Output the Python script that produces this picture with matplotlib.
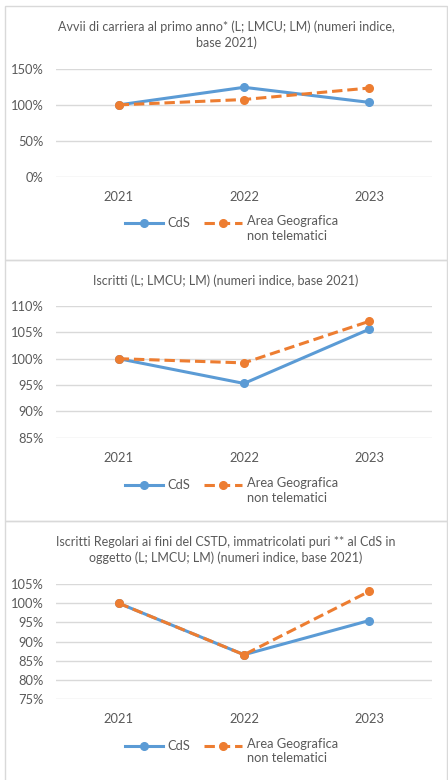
import matplotlib
matplotlib.use("Agg")
import matplotlib.pyplot as plt
from matplotlib.lines import Line2D
from matplotlib.patches import Rectangle
from matplotlib.ticker import PercentFormatter

plt.rcParams['font.family'] = ['Lato', 'DejaVu Sans']

years = ["2021", "2022", "2023"]

titles = [
    "Avvii di carriera al primo anno* (L; LMCU; LM) (numeri indice,\nbase 2021)",
    "Iscritti (L; LMCU; LM) (numeri indice, base 2021)",
    "Iscritti Regolari ai fini del CSTD, immatricolati puri ** al CdS in\noggetto (L; LMCU; LM) (numeri indice, base 2021)",
]

avvii_cds = [1.00, 1.245, 1.035]
avvii_area = [1.00, 1.075, 1.235]

iscritti_cds = [1.00, 0.953, 1.056]
iscritti_area = [1.00, 0.992, 1.071]

regolari_cds = [1.00, 0.866, 0.955]
regolari_area = [1.00, 0.866, 1.031]

yticks = [
    [0, 0.5, 1.0, 1.5],
    [0.85, 0.90, 0.95, 1.00, 1.05, 1.10],
    [0.75, 0.80, 0.85, 0.90, 0.95, 1.00, 1.05],
]

legend_labels = ["CdS", "Area Geografica\nnon telematici"]

W, H = 448, 780
BLUE = "#5B9BD5"
ORANGE = "#ED7D31"
GREY = "#595959"
GRID = "#D9D9D9"

fig = plt.figure(figsize=(W / 100, H / 100), dpi=100)


def fx(x):
    return x / W


def fy(y):
    return 1 - y / H


# panel layout in pixels: box top/bottom, title y, axes top/bottom, legend y
panels = [
    dict(box=(6, 260), title=35, ax=(69, 176.7), leg=223),
    dict(box=(260, 521), title=281, ax=(306, 437.7), leg=485),
    dict(box=(521, 784), title=550, ax=(584, 699.3), leg=746),
]
series = [
    (avvii_cds, avvii_area),
    (iscritti_cds, iscritti_area),
    (regolari_cds, regolari_area),
]

for i, p in enumerate(panels):
    top, bot = p["box"]
    fig.patches.append(Rectangle((fx(4.5), fy(bot)), fx(447 - 4.5), (bot - top) / H,
                                 transform=fig.transFigure, fill=False,
                                 edgecolor="#D9D9D9", linewidth=1.0))

    fig.text(fx(226), fy(p["title"]), titles[i], ha="center", va="center",
             fontsize=9.0, color=GREY, linespacing=1.3)

    at, ab = p["ax"]
    ax = fig.add_axes([fx(56), fy(ab), fx(432 - 56), (ab - at) / H])
    x = range(len(years))
    cds, area = series[i]
    ax.plot(x, cds, color=BLUE, lw=2.2, marker="o", ms=5.5, zorder=3)
    ax.plot(x, area, color=ORANGE, lw=2.2, marker="o", ms=5.5, zorder=4,
            dashes=(3.4, 1.6))
    ax.set_xlim(-0.5, 2.5)
    ax.set_ylim(yticks[i][0], yticks[i][-1])
    ax.set_yticks(yticks[i])
    ax.yaxis.set_major_formatter(PercentFormatter(1.0, decimals=0))
    ax.set_xticks(list(x))
    ax.set_xticklabels(years)
    ax.grid(axis="y", color=GRID, lw=1.0)
    ax.set_axisbelow(True)
    for s in ax.spines.values():
        s.set_visible(False)
    ax.tick_params(length=0, labelsize=9.3, labelcolor=GREY)
    ax.tick_params(axis="y", pad=9)
    ax.tick_params(axis="x", pad=10)

    ly = p["leg"]
    fig.lines.append(Line2D([fx(125), fx(163)], [fy(ly), fy(ly)], transform=fig.transFigure,
                            color=BLUE, lw=2.2))
    fig.lines.append(Line2D([fx(144)], [fy(ly)], transform=fig.transFigure,
                            color=BLUE, marker="o", ms=5.5, lw=0))
    fig.text(fx(167), fy(ly), legend_labels[0], ha="left", va="center",
             fontsize=9.3, color=GREY)
    fig.lines.append(Line2D([fx(204), fx(242)], [fy(ly), fy(ly)], transform=fig.transFigure,
                            color=ORANGE, lw=2.2, dashes=(3.4, 1.6)))
    fig.lines.append(Line2D([fx(223)], [fy(ly)], transform=fig.transFigure,
                            color=ORANGE, marker="o", ms=5.5, lw=0))
    fig.text(fx(247), fy(ly) + 8 / H, legend_labels[1], ha="left", va="top",
             fontsize=9.3, color=GREY, linespacing=1.25)

fig.savefig("out.png", dpi=100)
